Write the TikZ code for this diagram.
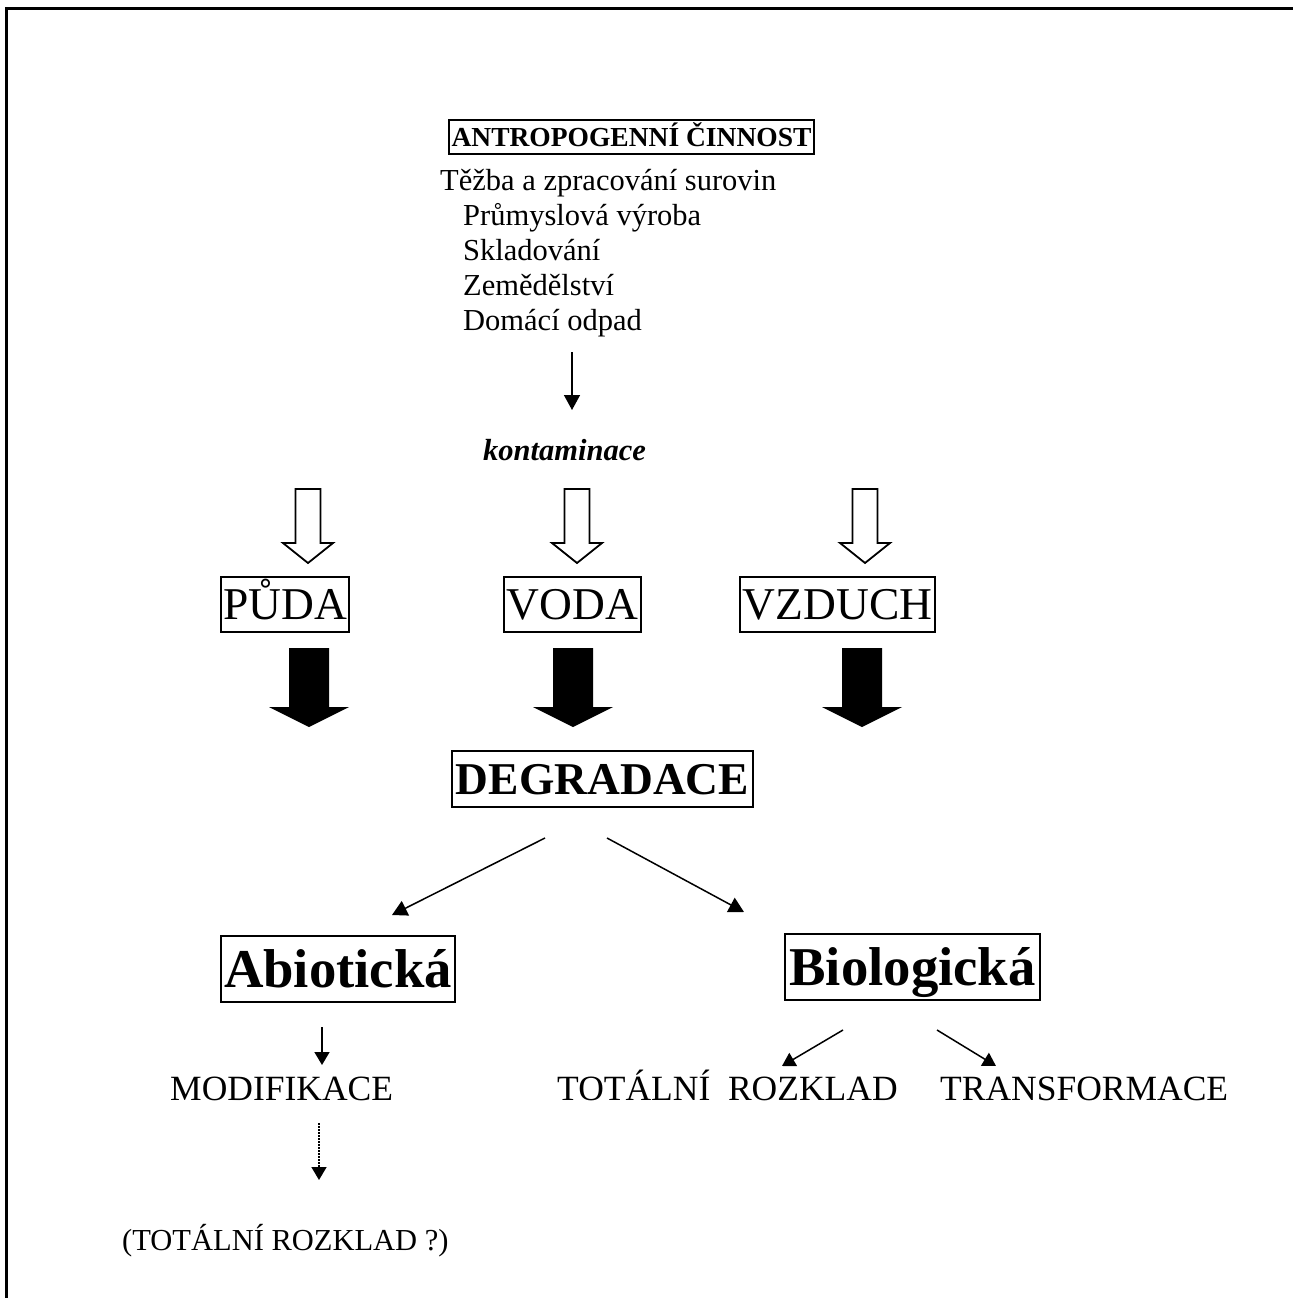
\documentclass[tikz,border=0pt]{standalone}
\usepackage{fontspec}
\setmainfont{Liberation Serif}
\usetikzlibrary{arrows.meta}
\tikzset{
  box/.style={draw,line width=2pt,inner sep=0pt,anchor=center,text depth=0pt},
  txt/.style={inner sep=0pt,anchor=base west},
  conn/.style={line width=1.5pt,-{Triangle[width=16pt,length=15pt]}},
  small/.style={line width=1.5pt,-{Triangle[width=15pt,length=13pt]}},
  dotconn/.style={line width=1.5pt,dash pattern=on 1.5pt off 1.5pt,-{Triangle[width=15pt,length=13pt,sep=0pt]}},
  hollow/.style={line width=1.8pt,line join=miter},
  solidarrow/.style={fill=black}
}
\begin{document}
\begin{tikzpicture}[x=1pt,y=-1pt]
\useasboundingbox (0,0) rectangle (1293,1298);
% frame
\draw[line width=2.5pt] (6.5,1298) -- (6.5,8.5) -- (1293,8.5);
% top box and list
\node[box,minimum width=365pt,minimum height=34pt,text height=18.2pt,font=\fontsize{27.5}{33}\selectfont\bfseries] (ant) at (631.5,137) {ANTROPOGENNÍ ČINNOST};
\node[txt,font=\fontsize{30.5}{35}\selectfont] (l1) at (440,190) {Těžba a zpracování surovin};
\node[txt,font=\fontsize{30.5}{35}\selectfont] (l2) at (463,225) {Průmyslová výroba};
\node[txt,font=\fontsize{30.5}{35}\selectfont] (l3) at (463,260) {Skladování};
\node[txt,font=\fontsize{30.5}{35}\selectfont] (l4) at (463,295) {Zemědělství};
\node[txt,font=\fontsize{30.5}{35}\selectfont] (l5) at (463,330) {Domácí odpad};
\coordinate (a1s) at (572,352);
\coordinate (a1e) at (572,410);
\draw[conn] (a1s) -- (a1e);
\node[txt,font=\fontsize{30.5}{35}\selectfont\bfseries\itshape] (kont) at (483,460) {kontaminace};
% hollow arrows
\foreach \c in {308,577,865}{
  \draw[hollow] (\c-12.5,489) -- (\c+12.5,489) -- (\c+12.5,543) -- (\c+25,543) -- (\c,563) -- (\c-25,543) -- (\c-12.5,543) -- cycle;
}
% media boxes
\node[box,minimum width=128pt,minimum height=55pt,text height=30.1pt,font=\fontsize{45.5}{50}\selectfont] (puda) at (285,604.5) {PŮDA};
\node[box,minimum width=137pt,minimum height=55pt,text height=30.1pt,font=\fontsize{45.5}{50}\selectfont] (voda) at (572.5,604.5) {VODA};
\node[box,minimum width=195pt,minimum height=55pt,text height=30.1pt,font=\fontsize{45.5}{50}\selectfont] (vzduch) at (837.5,604.5) {VZDUCH};
% black arrows
\foreach \c in {309,573,862}{
  \fill[solidarrow] (\c-20,648) -- (\c+20,648) -- (\c+20,707) -- (\c+40,707) -- (\c,727) -- (\c-40,707) -- (\c-20,707) -- cycle;
}
% degradace
\node[box,minimum width=301pt,minimum height=56pt,text height=30.1pt,font=\fontsize{45.5}{50}\selectfont\bfseries] (degr) at (602.5,779) {DEGRADACE};
\coordinate (dl) at (545,838);
\coordinate (dlt) at (392,915);
\coordinate (dr) at (607,838);
\coordinate (drt) at (744,912);
\draw[conn] (dl) -- (dlt);
\draw[conn] (dr) -- (drt);
% abiotic / biologic
\node[box,minimum width=234pt,minimum height=66pt,text height=36.2pt,font=\fontsize{54.7}{60}\selectfont\bfseries] (abio) at (338,969) {Abiotická};
\node[box,minimum width=255pt,minimum height=66pt,text height=36.2pt,font=\fontsize{54.7}{60}\selectfont\bfseries] (bio) at (912.5,967) {Biologická};
% abiotic branch
\coordinate (m1) at (322,1027);
\coordinate (m2) at (322,1065);
\draw[small] (m1) -- (m2);
\node[txt,font=\fontsize{35.5}{40}\selectfont] (modif) at (170,1100) {MODIFIKACE};
\coordinate (d1) at (319,1123);
\coordinate (d2) at (319,1180);
\draw[dotconn] (d1) -- (d2);
\node[txt,font=\fontsize{30.5}{35}\selectfont] (totq) at (122,1250) {(TOTÁLNÍ ROZKLAD ?)};
% biologic branch
\coordinate (b1) at (843,1030);
\coordinate (b1t) at (782,1066);
\coordinate (b2) at (937,1030);
\coordinate (b2t) at (996,1066);
\draw[small] (b1) -- (b1t);
\draw[small] (b2) -- (b2t);
\node[txt,font=\fontsize{35.5}{40}\selectfont] (tot) at (557,1100) {TOTÁLNÍ\ \ ROZKLAD};
\node[txt,font=\fontsize{35.5}{40}\selectfont] (trans) at (940,1100) {TRANSFORMACE};
\end{tikzpicture}
\end{document}
